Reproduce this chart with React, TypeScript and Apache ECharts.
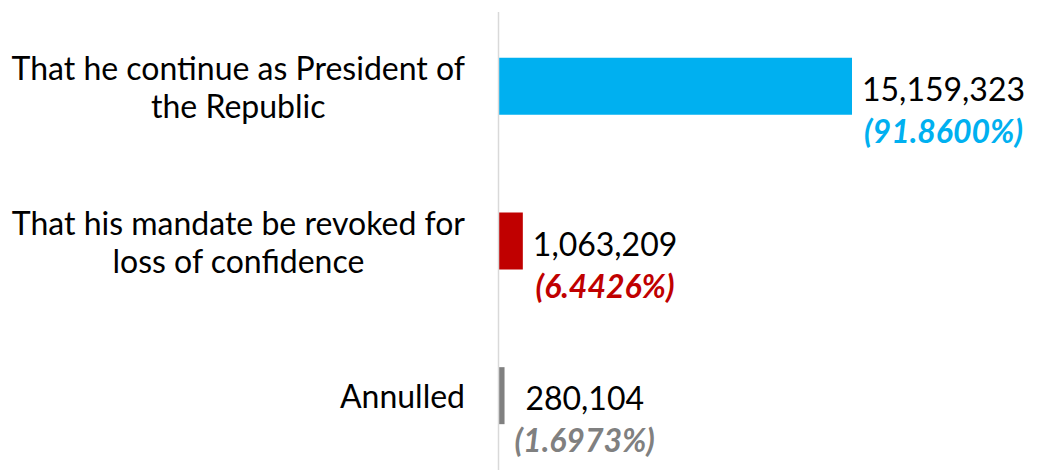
import React, { useEffect, useRef } from "react";
import * as echarts from "echarts";

const categories = [
  "That he continue as President of\nthe Republic",
  "That his mandate be revoked for\nloss of confidence",
  "Annulled",
];
const votes = [15159323, 1063209, 280104];
const percents = ["91.8600%", "6.4426%", "1.6973%"];
const barColors = ["#00B0F0", "#C00000", "#808080"];

const FONT = "Lato";

export default function App() {
  const ref = useRef<HTMLDivElement>(null);
  useEffect(() => {
    if (!ref.current) return;
    const chart = echarts.init(ref.current, null, { renderer: "svg" });
    const rich: any = {
      v: { fontFamily: FONT, fontSize: 32, color: "#000", lineHeight: 42, align: "center" },
    };
    barColors.forEach((c, i) => {
      rich["p" + i] = {
        fontFamily: FONT,
        fontSize: 32,
        fontWeight: "bold",
        fontStyle: "italic",
        color: c,
        lineHeight: 42,
        align: "center",
      };
    });
    chart.setOption({
      animation: false,
      grid: { left: 498, top: 9, width: 354, height: 471, containLabel: false },
      xAxis: {
        type: "value",
        min: 0,
        max: "dataMax",
        show: false,
      },
      yAxis: {
        type: "category",
        inverse: true,
        data: categories,
        axisLine: { show: false },
        axisTick: { show: false },
        axisLabel: {
          margin: 33,
          formatter: (v: string) =>
            v
              .split("\n")
              .map((l) => `{a|${l}}`)
              .join("\n"),
          rich: {
            a: { fontFamily: FONT, fontSize: 32, color: "#000", lineHeight: 38, align: "center" },
          },
        },
      },
      graphic: [
        {
          type: "line",
          shape: { x1: 498.5, y1: 12, x2: 498.5, y2: 470 },
          style: { stroke: "#d9d9d9", lineWidth: 1.5 },
          z: 10,
        },
      ],
      series: [
        {
          type: "bar",
          barWidth: 57,
          data: votes.map((v, i) => ({ value: v, itemStyle: { color: barColors[i] } })),
          label: {
            show: true,
            position: "right",
            distance: 10,
            offset: [0, 23],
            formatter: (p: any) =>
              `{v|${votes[p.dataIndex].toLocaleString("en-US")}}\n{p${p.dataIndex}|(${percents[p.dataIndex]})}`,
            rich,
          },
        },
      ],
    });
    return () => chart.dispose();
  }, []);
  return (
    <div
      ref={ref}
      style={{ position: "fixed", left: 0, top: 0, width: 1039, height: 473, background: "#fff" }}
    />
  );
}
